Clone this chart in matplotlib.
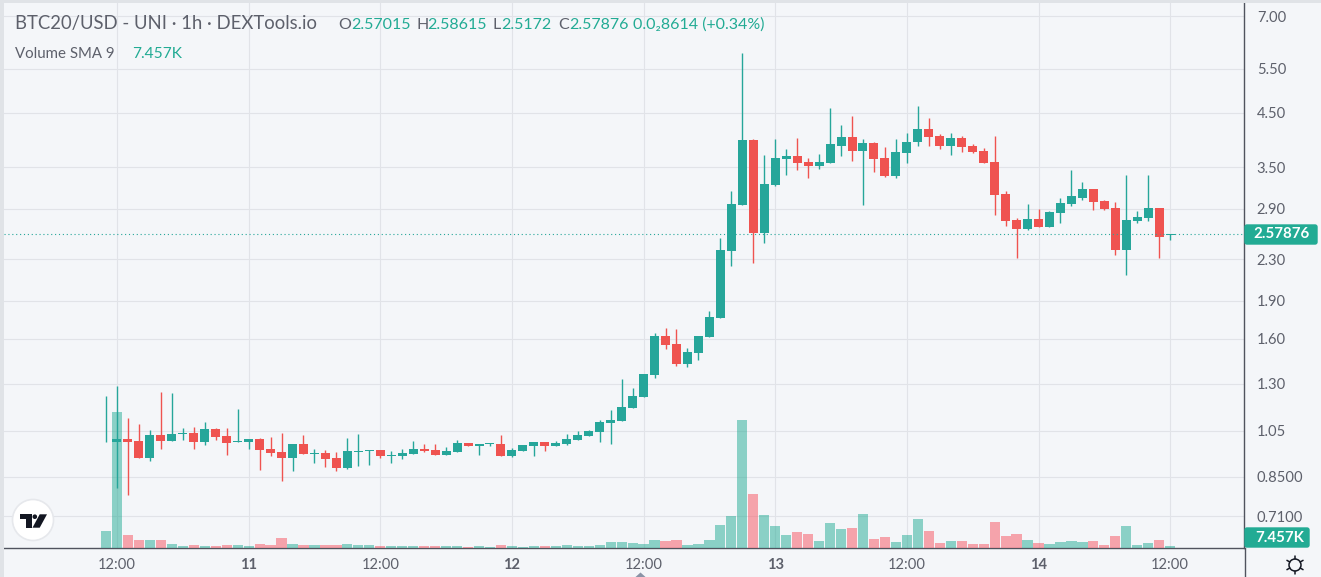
#!/usr/bin/env python3
"""Candlestick chart of BTC20/USD with volume, TradingView style."""

import matplotlib
matplotlib.use("Agg")
import matplotlib.pyplot as plt
from matplotlib.lines import Line2D
from matplotlib.patches import Circle, FancyBboxPatch, Polygon, Rectangle
import numpy as np

W, H = 1321, 577
UP = "#26a69a"
DOWN = "#ef5350"
VOL_UP = "#22ab94"
VOL_DOWN = "#f7525f"
PANE = "#f4f6f9"
BORDER = "#e0e3e7"
GRID = "#e1e3e8"
AXIS = "#50535e"
TEXT = "#5d606b"
FONT = "Lato"

# one bar per hour, the first bar sits one hour before the first 12:00 tick
first_bar = -1

opens = [
    0.995, 0.995, 1.010, 1.002, 0.927, 1.029, 1.002, 1.032, 1.039, 0.997, 1.058, 1.024,
    0.995, 0.997, 1.010, 0.966, 0.953, 0.927, 0.988, 0.944, 0.948, 0.927, 0.886, 0.953,
    0.954, 0.961, 0.935, 0.935, 0.944, 0.966, 0.961, 0.940, 0.953, 0.993, 0.979, 0.986,
    0.988, 0.935, 0.957, 0.979, 0.997, 0.979, 0.988, 1.006, 1.024, 1.043, 1.085, 1.095,
    1.164, 1.226, 1.354, 1.622, 1.561, 1.424, 1.500, 1.608, 1.757, 2.390, 2.950, 3.960,
    2.594, 3.225, 3.640, 3.690, 3.590, 3.520, 3.570, 3.870, 4.020, 3.770, 3.910, 3.650,
    3.360, 3.740, 3.930, 4.170, 4.040, 3.860, 4.000, 3.860, 3.770, 3.590, 3.100, 2.750,
    2.640, 2.760, 2.665, 2.840, 2.965, 3.050, 3.175, 3.000, 2.910, 2.400, 2.740, 2.775,
    2.910, 2.57015,
]
highs = [
    1.231, 1.288, 1.111, 1.080, 1.053, 1.253, 1.248, 1.062, 1.068, 1.090, 1.062, 1.062,
    1.158, 1.010, 1.015, 1.020, 1.039, 0.988, 1.029, 0.966, 0.961, 0.953, 1.015, 1.034,
    0.961, 0.961, 0.957, 0.966, 1.002, 0.988, 0.988, 0.975, 1.006, 0.993, 0.988, 0.994,
    1.029, 0.970, 0.984, 0.997, 0.997, 1.002, 1.034, 1.048, 1.053, 1.100, 1.153, 1.330,
    1.276, 1.360, 1.638, 1.680, 1.673, 1.534, 1.615, 1.815, 2.534, 3.145, 5.910, 3.980,
    3.700, 3.980, 3.810, 4.000, 3.650, 3.720, 4.590, 4.250, 4.420, 3.980, 3.940, 3.840,
    3.980, 4.090, 4.640, 4.380, 4.080, 4.090, 4.040, 3.890, 3.830, 4.040, 3.145, 2.775,
    2.965, 2.895, 2.870, 3.050, 3.460, 3.270, 3.175, 3.020, 2.990, 3.380, 2.870, 3.380,
    2.910, 2.58615,
]
lows = [
    0.995, 0.809, 0.783, 0.927, 0.914, 0.966, 1.002, 1.006, 0.966, 0.984, 1.006, 0.940,
    0.995, 0.966, 0.877, 0.935, 0.834, 0.873, 0.944, 0.906, 0.890, 0.873, 0.881, 0.894,
    0.898, 0.927, 0.906, 0.923, 0.944, 0.953, 0.940, 0.940, 0.953, 0.979, 0.940, 0.979,
    0.935, 0.931, 0.957, 0.935, 0.957, 0.979, 0.984, 1.006, 1.024, 0.997, 0.988, 1.095,
    1.164, 1.226, 1.338, 1.527, 1.410, 1.404, 1.450, 1.608, 1.757, 2.230, 2.950, 2.260,
    2.475, 3.210, 3.380, 3.460, 3.330, 3.480, 3.570, 3.690, 3.600, 2.950, 3.430, 3.350,
    3.330, 3.570, 3.860, 3.870, 3.810, 3.700, 3.760, 3.740, 3.570, 2.810, 2.680, 2.310,
    2.630, 2.665, 2.665, 2.710, 2.935, 3.020, 2.880, 2.880, 2.340, 2.140, 2.710, 2.740,
    2.310, 2.5172,
]
closes = [
    0.998, 1.010, 0.997, 0.927, 1.029, 1.002, 1.034, 1.039, 0.997, 1.058, 1.020, 0.993,
    1.002, 1.010, 0.961, 0.948, 0.927, 0.988, 0.944, 0.948, 0.923, 0.886, 0.957, 0.957,
    0.961, 0.935, 0.940, 0.948, 0.966, 0.957, 0.940, 0.957, 0.993, 0.979, 0.988, 0.990,
    0.935, 0.961, 0.984, 0.997, 0.979, 0.993, 1.010, 1.029, 1.048, 1.090, 1.100, 1.169,
    1.231, 1.360, 1.622, 1.554, 1.424, 1.505, 1.615, 1.764, 2.400, 2.965, 3.960, 2.594,
    3.240, 3.650, 3.690, 3.570, 3.520, 3.590, 3.890, 4.020, 3.770, 3.910, 3.640, 3.360,
    3.760, 3.940, 4.170, 4.020, 3.860, 4.000, 3.840, 3.760, 3.570, 3.090, 2.740, 2.640,
    2.760, 2.665, 2.855, 2.980, 3.065, 3.175, 2.990, 2.895, 2.400, 2.750, 2.790, 2.910,
    2.550, 2.57876,
]
# volume in thousands; colour follows the volume_up flags (1 = green)
volumes = [
    17, 136, 13, 8, 8, 8, 4, 2, 3, 2, 2, 3, 3, 2, 4, 3, 10, 4, 3, 3, 3, 3, 4, 3,
    3, 2, 2, 2, 2, 2, 2, 2, 2, 1, 2, 1, 3, 2, 1, 2, 2, 2, 3, 2, 2, 3, 6, 6,
    5, 4, 8, 7, 8, 3, 4, 8, 23, 32, 128, 54, 33, 22, 13, 16, 14, 7, 25, 19, 20, 34,
    9, 11, 6, 13, 29, 17, 5, 7, 7, 4, 4, 26, 12, 14, 8, 5, 4, 6, 7, 6, 7, 3,
    12, 22, 3, 5, 8, 2,
]
volume_up = [
    1, 1, 0, 0, 1, 0, 1, 1, 0, 1, 0, 0, 1, 1, 0, 0, 0, 1, 0, 1, 0, 0, 1, 1,
    1, 0, 1, 1, 1, 0, 0, 1, 1, 0, 1, 1, 0, 1, 1, 1, 0, 1, 1, 1, 1, 1, 1, 1,
    1, 1, 1, 0, 0, 1, 1, 1, 1, 1, 1, 0, 1, 1, 1, 0, 0, 1, 1, 1, 0, 1,
    0, 0, 1, 1, 1, 0, 0, 1, 0, 0, 0, 0, 0, 0, 1, 0, 1, 1, 1, 1, 0, 0,
    0, 1, 1, 1, 0, 1,
]

price_ticks = [7.00, 5.50, 4.50, 3.50, 2.90, 2.30, 1.90, 1.60, 1.30, 1.05, 0.85, 0.71]
price_labels = ["7.00", "5.50", "4.50", "3.50", "2.90", "2.30", "1.90", "1.60", "1.30",
                "1.05", "0.8500", "0.7100"]
time_ticks = [0, 12, 24, 36, 48, 60, 72, 84, 96]
time_labels = ["12:00", "11", "12:00", "12", "12:00", "13", "12:00", "14", "12:00"]
day_labels = {"11", "12", "13", "14"}
last_price = 2.57876
last_volume_label = "7.457K"


def box(left, top, right, bottom):
    return [left / W, 1 - bottom / H, (right - left) / W, (bottom - top) / H]


fig = plt.figure(figsize=(W / 100, H / 100), dpi=100, facecolor=PANE)
plt.rcParams["font.family"] = FONT

ax = fig.add_axes(box(4, 3, 1244, 548), facecolor=PANE)
ax.set_yscale("log")
ax.set_xlim(-10.3, 102.73)
ax.set_ylim(0.6134, 7.43)
ax.yaxis.tick_right()
ax.set_yticks(price_ticks, price_labels)
ax.minorticks_off()
ax.set_xticks(time_ticks, time_labels)
ax.tick_params(axis="y", length=0, pad=9.2, labelsize=10.6, labelcolor=TEXT)
ax.tick_params(axis="x", length=0, pad=7, labelsize=10.6, labelcolor=TEXT)
for label in ax.get_xticklabels():
    if label.get_text() in day_labels:
        label.set_fontweight("bold")
ax.grid(True, color=GRID, linewidth=0.8)
ax.set_axisbelow(True)
for side in ("top", "left"):
    ax.spines[side].set_visible(False)
for side in ("right", "bottom"):
    ax.spines[side].set_color(AXIS)
    ax.spines[side].set_linewidth(1.0)

x = np.arange(len(opens)) + first_bar
o = np.array(opens)
c = np.array(closes)
colors = np.where(c >= o, UP, DOWN)

vol_ax = fig.add_axes(box(4, 3, 1244, 548), sharex=ax, facecolor="none")
vol_ax.set_ylim(0, 545)
vol_ax.axis("off")
vol_ax.bar(x, volumes, width=0.93, alpha=0.5,
           color=[VOL_UP if up else VOL_DOWN for up in volume_up])

price_ax = fig.add_axes(box(4, 3, 1244, 548), sharex=ax, sharey=ax, facecolor="none")
price_ax.axis("off")
price_ax.axhline(last_price, color=UP, linewidth=0.8, linestyle=(0, (1, 2.5)))
price_ax.vlines(x, lows, highs, color=colors, linewidth=1.0)
body_low = np.minimum(o, c)
body_high = np.maximum(o, c)
price_ax.bar(x, body_high - body_low, bottom=body_low, width=0.82, color=colors)

# overlay in pixel coordinates for the header, price tags and icons
over = fig.add_axes([0, 0, 1, 1], facecolor="none")
over.set_xlim(0, W)
over.set_ylim(H, 0)
over.axis("off")

over.add_patch(Rectangle((0, 0), W, 3, color=BORDER, lw=0))
over.add_patch(Rectangle((0, 0), 4, H, color=BORDER, lw=0))
over.add_artist(Line2D([1244.5, 1244.5], [548, H], color=AXIS, lw=1.0))

over.text(15, 24, "BTC20/USD - UNI · 1h · DEXTools.io", fontsize=13.35, color=TEXT, va="center")
over.text(15, 54, "Volume SMA 9", fontsize=10.8, color=TEXT, va="center")
over.text(132, 54, last_volume_label, fontsize=11.2, color=VOL_UP, va="center")

ohlc_parts = [
    (338, "O", TEXT), (351, "2.57015", VOL_UP), (416, "H", TEXT), (427, "2.58615", VOL_UP),
    (493, "L", TEXT), (501, "2.5172", VOL_UP), (558, "C", TEXT), (569, "2.57876", VOL_UP),
    (633, "0.0₂8614 (+0.34%)", VOL_UP),
]
for px, part, color in ohlc_parts:
    over.text(px, 25, part, fontsize=11.5, color=color, va="center",
              family=[FONT, "DejaVu Sans"])

# price and volume tags on the scale
over.add_patch(FancyBboxPatch((1245, 225), 72, 19, boxstyle="round,pad=0,rounding_size=2",
                              fc=VOL_UP, ec=VOL_UP, lw=1))
over.text(1282, 234.5, "2.57876", color="white", fontsize=10.8, fontweight="bold",
          ha="center", va="center")
over.add_patch(FancyBboxPatch((1245, 528), 64, 19, boxstyle="round,pad=0,rounding_size=2",
                              fc=VOL_UP, ec=VOL_UP, lw=1))
over.text(1280, 537.5, last_volume_label, color="white", fontsize=10.8, fontweight="bold",
          ha="center", va="center")

# settings gear
over.add_patch(Circle((1295, 565), 6, fc="none", ec="#131722", lw=1.1))
for angle in np.arange(0, 360, 60) + 30:
    rad = np.deg2rad(angle)
    over.plot([1295 + 6 * np.cos(rad), 1295 + 9.3 * np.cos(rad)],
              [565 + 6 * np.sin(rad), 565 + 9.3 * np.sin(rad)],
              color="#131722", lw=1.1, solid_capstyle="round")

# scroll marker under the axis
over.add_patch(Polygon([(635.5, 577), (640.5, 572.5), (645.5, 577)], fc="#8a93a6", lw=0))

# logo badge
over.add_patch(Circle((33, 520), 20.5, fc="white", ec="#e6e8ec", lw=1.2))
LOGO = "#131722"
over.add_patch(Polygon([(20.3, 514.3), (32, 514.3), (32, 527.7), (26.3, 527.7), (26.3, 519.2), (20.3, 519.2)],
                       fc=LOGO, lw=0))
over.add_patch(Polygon([(39.7, 514.3), (47, 514.3), (39.7, 527.7), (32.5, 527.7)], fc=LOGO, lw=0))
over.add_patch(Circle((34.8, 516.7), 2.3, fc=LOGO, lw=0))

fig.savefig("out.png", dpi=100, facecolor=fig.get_facecolor())
